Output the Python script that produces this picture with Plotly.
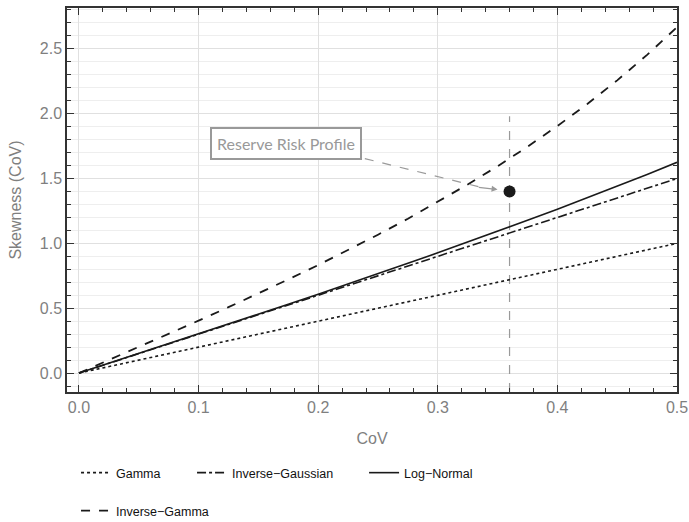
import plotly.graph_objects as go

cov = [0.0, 0.025, 0.05, 0.075, 0.1, 0.125, 0.15, 0.175, 0.2, 0.225, 0.25,
       0.275, 0.3, 0.325, 0.35, 0.375, 0.4, 0.425, 0.45, 0.475, 0.5]
gamma = [0.0, 0.05, 0.1, 0.15, 0.2, 0.25, 0.3, 0.35, 0.4, 0.45, 0.5,
         0.55, 0.6, 0.65, 0.7, 0.75, 0.8, 0.85, 0.9, 0.95, 1.0]
inv_gaussian = [0.0, 0.075, 0.15, 0.225, 0.3, 0.375, 0.45, 0.525, 0.6, 0.675, 0.75,
                0.825, 0.9, 0.975, 1.05, 1.125, 1.2, 1.275, 1.35, 1.425, 1.5]
log_normal = [0.0, 0.075, 0.150, 0.225, 0.301, 0.377, 0.453, 0.530, 0.608, 0.686, 0.766,
              0.846, 0.927, 1.009, 1.093, 1.178, 1.264, 1.352, 1.441, 1.532, 1.625]
inv_gamma = [0.0, 0.100, 0.201, 0.302, 0.404, 0.508, 0.614, 0.722, 0.833, 0.948, 1.067,
             1.190, 1.319, 1.454, 1.595, 1.745, 1.905, 2.075, 2.257, 2.454, 2.667]

profile_x = [0.36]
profile_y = [1.40]
profile_label = "Reserve Risk Profile"

X_RANGE = [-0.01, 0.5]
Y_RANGE = [-0.146, 2.815]

ink = "#1a1a1a"
grey_txt = "#7f7f7f"
sans = "Liberation Sans, Arial, Helvetica, sans-serif"

fig = go.Figure()
fig.add_trace(go.Scatter(x=cov, y=gamma, mode="lines", name="Gamma",
                         line=dict(color=ink, width=1.6, dash="dot"), legend="legend"))
fig.add_trace(go.Scatter(x=cov, y=inv_gaussian, mode="lines", name="Inverse\u2212Gaussian",
                         line=dict(color=ink, width=1.6, dash="dashdot"), legend="legend2"))
fig.add_trace(go.Scatter(x=cov, y=log_normal, mode="lines", name="Log\u2212Normal",
                         line=dict(color=ink, width=1.6), legend="legend3"))
fig.add_trace(go.Scatter(x=cov, y=inv_gamma, mode="lines", name="Inverse\u2212Gamma",
                         line=dict(color=ink, width=1.8, dash="dash"), legend="legend4"))

# vertical reference line (above grid, below traces)
fig.add_shape(type="line", xref="x", yref="y", x0=profile_x[0], x1=profile_x[0],
              y0=Y_RANGE[0], y1=1.98, layer="between",
              line=dict(color="#9a9a9a", width=1.2, dash="dash"))

# dashed connector from label box to point
fig.add_trace(go.Scatter(x=[0.239, 0.338], y=[1.654, 1.428], mode="lines",
                         line=dict(color="#9a9a9a", width=1.2, dash="dash"),
                         showlegend=False, hoverinfo="skip"))

fig.add_trace(go.Scatter(x=profile_x, y=profile_y, mode="markers", showlegend=False,
                         marker=dict(color=ink, size=12)))

# invisible trace carrying the mirrored (top / right) axes
fig.add_trace(go.Scatter(x=[None], y=[None], xaxis="x2", yaxis="y2",
                         showlegend=False, hoverinfo="skip"))

# arrow head
fig.add_annotation(x=0.350, y=1.415, ax=0.333, ay=1.434, xref="x", yref="y",
                   axref="x", ayref="y", text="", showarrow=True,
                   arrowhead=2, arrowsize=1.0, arrowwidth=1.2, arrowcolor="#9a9a9a")

fig.add_annotation(x=0.173, y=1.77, xref="x", yref="y", text=profile_label,
                   showarrow=False, font=dict(family="Lato", size=16, color="#999999"),
                   bordercolor="#999999", borderwidth=2, borderpad=5, bgcolor="white")

axis_common = dict(showline=True, linecolor="#333333", linewidth=1.5,
                   ticks="inside", ticklen=7, tickcolor="#333333", tickwidth=1.2,
                   zeroline=False, gridcolor="#e0e0e0", gridwidth=1,
                   tickfont=dict(family=sans, size=16, color=grey_txt),
                   title_font=dict(family=sans, size=16, color=grey_txt))
minor_x = dict(dtick=0.02, ticks="inside", ticklen=4, tickcolor="#333333", showgrid=False)

fig.update_layout(
    xaxis=dict(range=X_RANGE, tick0=0, dtick=0.1, tickformat=".1f",
               title_text="CoV", title_standoff=18, minor=minor_x, **axis_common),
    yaxis=dict(range=Y_RANGE, tick0=0, dtick=0.5, tickformat=".1f",
               title_text="Skewness (CoV)", title_standoff=14,
               minor=dict(dtick=0.1, ticks="inside", ticklen=4, tickcolor="#333333",
                          showgrid=True, gridcolor="#eeeeee"),
               **axis_common),
    xaxis2=dict(range=X_RANGE, overlaying="x", side="top", tick0=0, dtick=0.1,
                showticklabels=False, showgrid=False, showline=True, linecolor="#333333",
                linewidth=1.5, ticks="inside", ticklen=7, tickcolor="#333333",
                tickwidth=1.2, zeroline=False,
                minor=dict(dtick=0.02, ticks="inside", ticklen=4, tickcolor="#333333",
                           showgrid=False)),
    yaxis2=dict(range=Y_RANGE, overlaying="y", side="right", tick0=0, dtick=0.5,
                showticklabels=False, showgrid=False, showline=True, linecolor="#333333",
                linewidth=1.5, ticks="inside", ticklen=7, tickcolor="#333333",
                tickwidth=1.2, zeroline=False,
                minor=dict(dtick=0.1, ticks="inside", ticklen=4, tickcolor="#333333",
                           showgrid=False)),
)

legend_common = dict(orientation="h", bgcolor="rgba(0,0,0,0)",
                     font=dict(family=sans, size=12.5, color="#111111"),
                     xanchor="left", yanchor="middle")
fig.update_layout(
    width=689, height=522,
    margin=dict(l=67, r=12, t=8, b=130, autoexpand=False),
    plot_bgcolor="white", paper_bgcolor="white",
    legend=dict(x=0.0148, y=-0.211, **legend_common),
    legend2=dict(x=0.205, y=-0.211, **legend_common),
    legend3=dict(x=0.487, y=-0.211, **legend_common),
    legend4=dict(x=0.0148, y=-0.310, **legend_common),
)

fig.write_html("out.html")
